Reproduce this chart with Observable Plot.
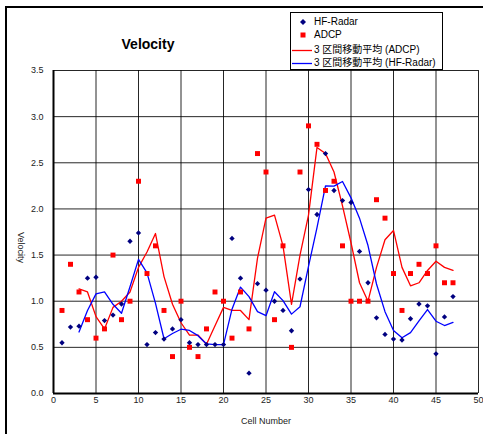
<!DOCTYPE html>
<html>
<head>
<meta charset="utf-8">
<script src="https://cdn.jsdelivr.net/npm/d3@7"></script>
<script src="https://cdn.jsdelivr.net/npm/@observablehq/plot@0.6"></script>
<style>
  html, body { margin: 0; padding: 0; background: #fff; }
  body { width: 483px; height: 434px; position: relative; overflow: hidden;
         font-family: "Liberation Sans", Arial, "Noto Sans CJK JP", sans-serif; }
  #chart { position: absolute; left: 0; top: 0; }
  #frame { position: absolute; left: 5px; top: 6px; width: 500px; height: 460px;
           border: 2px solid #000; box-sizing: border-box; pointer-events: none; }
  #title { position: absolute; left: 98px; width: 100px; top: 36px; text-align: center;
           font-weight: bold; font-size: 14px; color: #000; }
  #legend { position: absolute; left: 290px; top: 12px; width: 153px; height: 58px;
            border: 1px solid #000; box-sizing: border-box; background: #fff; font-size: 10px; color: #000; }
  .row { position: absolute; left: 0; height: 12px; display: flex; align-items: center; }
  .row svg { display: block; }
  .row span { position: absolute; left: 23px; white-space: nowrap; line-height: 12px; }
</style>
</head>
<body>
<div id="chart"></div>
<div id="frame"></div>
<div id="title">Velocity</div>
<div id="legend"></div>
<script>
const cells = d3.range(1, 48);
const hfRadar = [0.55,0.72,0.73,1.25,1.26,0.79,0.85,0.97,1.65,1.74,
                 0.53,0.66,0.59,0.70,0.80,0.55,0.53,0.53,0.53,0.53,
                 1.68,1.25,0.22,1.19,1.12,1.00,0.90,0.68,1.24,2.21,
                 1.94,2.60,2.20,2.09,2.07,1.54,1.20,0.82,0.64,0.59,
                 0.58,0.81,0.97,0.95,0.43,0.83,1.05];
const adcp = [0.9,1.4,1.1,0.8,0.6,0.7,1.5,0.8,1.0,2.3,
              1.3,1.6,0.9,0.4,1.0,0.5,0.4,0.7,1.1,1.0,
              0.6,1.1,0.7,2.6,2.4,0.8,1.6,0.5,2.4,2.9,
              2.7,2.2,2.3,1.6,1.0,1.0,1.0,2.1,1.9,1.3,
              0.9,1.3,1.4,1.3,1.6,1.2,1.2];
const xTitle = "Cell Number";
const yTitle = "Velocity";
const legendLabels = ["HF-Radar", "ADCP", "3 区間移動平均 (ADCP)", "3 区間移動平均 (HF-Radar)"];

const data = cells.map((c, i) => ({cell: c, hf: hfRadar[i], adcp: adcp[i]}));
const font = "'Liberation Sans', Arial, sans-serif";

const chart = Plot.plot({
  width: 483, height: 434,
  marginLeft: 53, marginRight: 5, marginTop: 70, marginBottom: 41,
  style: {fontFamily: font, background: "transparent"},
  x: {domain: [0, 50]},
  y: {domain: [0, 3.5]},
  marks: [
    Plot.gridX({ticks: 10, stroke: "#000", strokeOpacity: 0.85, strokeWidth: 1}),
    Plot.gridY({ticks: 7, stroke: "#000", strokeOpacity: 0.85, strokeWidth: 1}),
    Plot.axisX({ticks: 10, tickSize: 0, tickPadding: 3, fontSize: 9, fill: "#222", label: null}),
    Plot.axisY({ticks: 7, tickSize: 0, tickPadding: 10, fontSize: 9, fill: "#222", tickFormat: ".1f", label: null}),
    Plot.ruleY([0], {stroke: "#000", strokeWidth: 2}),
    Plot.ruleX([0], {stroke: "#000", strokeWidth: 2}),
    Plot.lineY(data, Plot.windowY({k: 3, anchor: "end", strict: true, reduce: "mean"},
      {x: "cell", y: "adcp", stroke: "#ff0000", strokeWidth: 1.3})),
    Plot.lineY(data, Plot.windowY({k: 3, anchor: "end", strict: true, reduce: "mean"},
      {x: "cell", y: "hf", stroke: "#0000ff", strokeWidth: 1.3})),
    Plot.dot(data, {x: "cell", y: "hf", symbol: "diamond2", r: 2.4, fill: "#000080", stroke: null}),
    Plot.dot(data, {x: "cell", y: "adcp", symbol: "square", r: 2.8, fill: "#ff0000", stroke: null}),
    Plot.text([xTitle], {text: d => d, frameAnchor: "bottom", dy: 30, fontSize: 9, fill: "#222"}),
    Plot.text([yTitle], {text: d => d, frameAnchor: "left", dx: -33, rotate: 90, fontSize: 9, fill: "#222"})
  ]
});
document.getElementById("chart").appendChild(chart);

// legend
const lg = document.getElementById("legend");
const rowsY = [3, 16, 31, 44];
const kinds = ["diamond", "square", "redline", "blueline"];
kinds.forEach((k, i) => {
  const row = document.createElement("div");
  row.className = "row";
  row.style.top = rowsY[i] + "px";
  let svg;
  if (k === "diamond") svg = `<svg width="22" height="12"><path d="M12,3 L15,6 L12,9 L9,6 Z" fill="#000080"/></svg>`;
  else if (k === "square") svg = `<svg width="22" height="12"><rect x="9.5" y="3.5" width="5" height="5" fill="#ff0000"/></svg>`;
  else if (k === "redline") svg = `<svg width="22" height="12"><line x1="1" x2="21" y1="6.5" y2="6.5" stroke="#ff0000" stroke-width="1.3"/></svg>`;
  else svg = `<svg width="22" height="12"><line x1="1" x2="21" y1="6.5" y2="6.5" stroke="#0000ff" stroke-width="1.3"/></svg>`;
  row.innerHTML = svg + `<span>${legendLabels[i]}</span>`;
  lg.appendChild(row);
});
</script>
</body>
</html>
